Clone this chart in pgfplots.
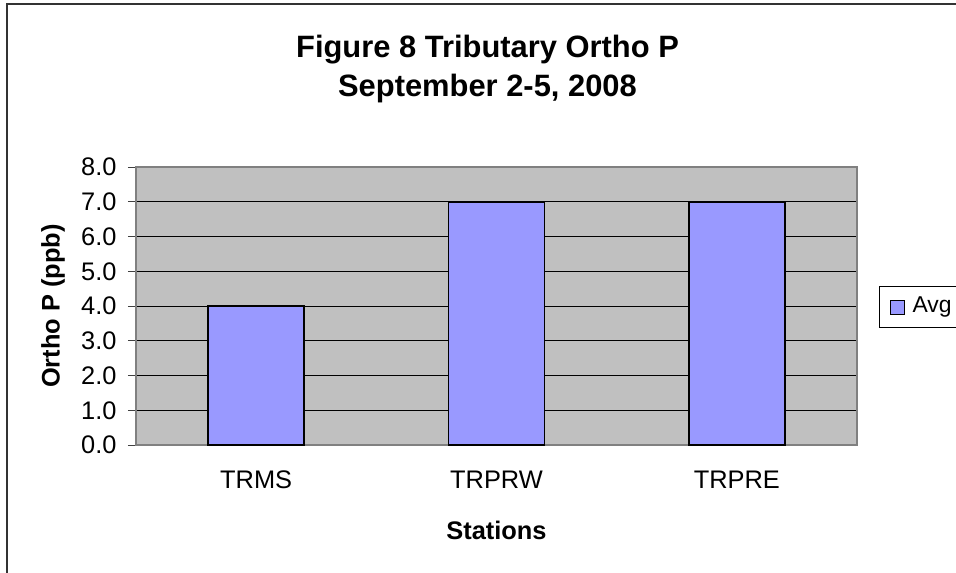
\documentclass[border=0pt]{standalone}
\usepackage{fontspec}
\setmainfont{Liberation Sans}
\usepackage{pgfplots}
\pgfplotsset{compat=1.18}
\definecolor{barblue}{HTML}{9999FF}
\definecolor{plotgray}{HTML}{C0C0C0}
\definecolor{bordergray}{HTML}{808080}
\begin{document}
\begin{tikzpicture}
\draw[line width=1.5bp, color=black!80] (7bp,-590bp) -- (7bp,-4bp) -- (980bp,-4bp);
\node[anchor=base, font=\bfseries\fontsize{31}{36}\selectfont] at (487.5bp,-57bp) {Figure 8 Tributary Ortho P};
\node[anchor=base, font=\bfseries\fontsize{31}{36}\selectfont] at (487.5bp,-96bp) {September 2-5, 2008};
\begin{axis}[
  at={(136bp,-445bp)}, anchor=south west,
  width=721bp, height=278bp, scale only axis,
  xmin=-0.5, xmax=2.5, ymin=0, ymax=8,
  axis background/.style={fill=plotgray},
  axis line style={draw=bordergray, line width=1.5bp},
  tick align=outside, tick pos=left,
  major tick length=8bp,
  tick style={draw=black!75, line width=1bp},
  ytick={0,1,2,3,4,5,6,7,8},
  yticklabel style={/pgf/number format/.cd,fixed,fixed zerofill,precision=1,/tikz/.cd,xshift=-8bp},
  /pgf/number format/assume math mode=true,
  ticklabel style={font=\fontsize{25.5}{29}\selectfont},
  xticklabel style={yshift=-14bp},
  ymajorgrids, grid style={draw=black, line width=0.8bp},
  xtick={0,1,2}, xticklabels={TRMS,TRPRW,TRPRE},
  xtick style={draw=none},
  extra x ticks={-0.5,0.5,1.5,2.5}, extra x tick labels={},
  extra x tick style={tick style={draw=black!75, line width=1bp}, grid=none},
  xlabel={Stations}, ylabel={Ortho P (ppb)},
  label style={font=\bfseries\fontsize{25.5}{29}\selectfont},
  xlabel style={at={(axis description cs:0.5,-0.3058)}, anchor=center},
  ylabel style={at={(axis description cs:-0.1151,0.5)}, anchor=center},
  legend style={at={(axis description cs:1.0305,0.496)}, anchor=west,
    draw=black, fill=white, line width=1bp,
    inner xsep=8bp, inner ysep=6bp,
    nodes={inner sep=3bp, text height=17bp, text depth=6bp},
    font=\fontsize{23}{27}\selectfont},
  legend image code/.code={\path[draw=none,fill=none] (-3bp,0bp) -- (19bp,0bp); \draw[fill=barblue,draw=black,line width=1bp] (0bp,-7bp) rectangle (14bp,7bp);},
]
\addplot[ybar, bar width=0.4, fill=barblue, draw=black, line width=1.5bp] coordinates {(0,4) (1,7) (2,7)};
\addlegendentry{Avg}
\end{axis}
\pgfresetboundingbox
\useasboundingbox (0,0) rectangle (956bp,-573bp);
\end{tikzpicture}
\end{document}
